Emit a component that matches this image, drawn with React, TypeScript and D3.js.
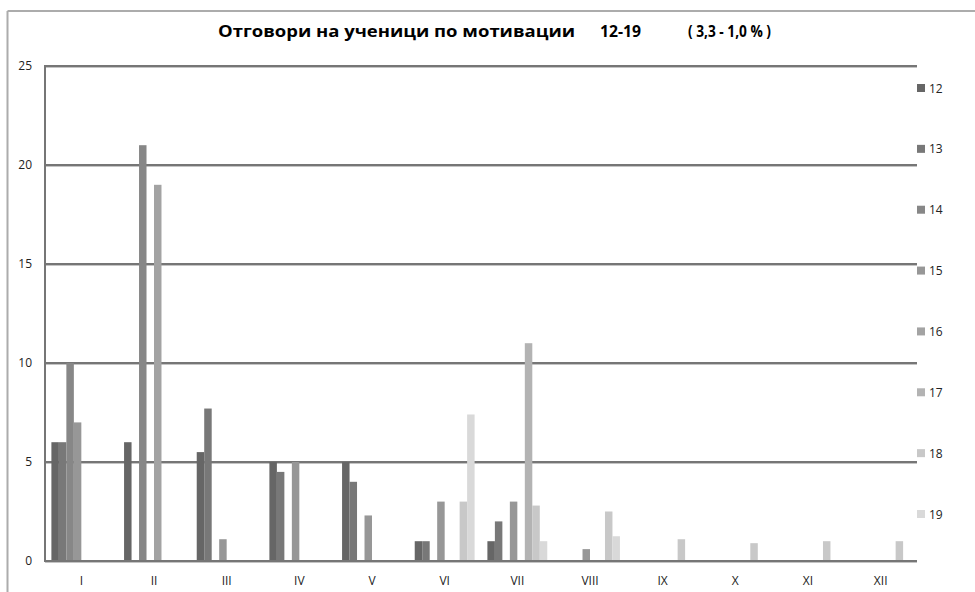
import React from "react";
import * as d3 from "d3";

const categories = ["I", "II", "III", "IV", "V", "VI", "VII", "VIII", "IX", "X", "XI", "XII"];
const seriesNames = ["12", "13", "14", "15", "16", "17", "18", "19"];
const s12 = [6, 6, 5.5, 5, 5, 1, 1, 0, 0, 0, 0, 0];
const s13 = [6, 0, 7.7, 4.5, 4, 1, 2, 0, 0, 0, 0, 0];
const s14 = [10, 21, 0, 0, 0, 0, 0, 0, 0, 0, 0, 0];
const s15 = [7, 0, 1.1, 5, 2.3, 3, 3, 0.6, 0, 0, 0, 0];
const s16 = [0, 19, 0, 0, 0, 0, 0, 0, 0, 0, 0, 0];
const s17 = [0, 0, 0, 0, 0, 0, 11, 0, 0, 0, 0, 0];
const s18 = [0, 0, 0, 0, 0, 3, 2.8, 2.5, 1.1, 0.9, 1, 1];
const s19 = [0, 0, 0, 0, 0, 7.4, 1, 1.25, 0, 0, 0, 0];
const yTicks = [0, 5, 10, 15, 20, 25];
const seriesColors = ["#666666", "#787878", "#878787", "#979797", "#a3a3a3", "#b3b3b3", "#c8c8c8", "#d9d9d9"];
const titleMain = "Отговори на ученици по мотивации";
const titleRange = "12-19";
const titlePct = "( 3,3 - 1,0 % )";

const allSeries = [s12, s13, s14, s15, s16, s17, s18, s19];

export default function App() {
  const W = 975, H = 592;
  const left = 45, right = 917, top = 66, bottom = 561;
  const x = d3.scaleBand<string>().domain(categories).range([left, right]).padding(0);
  const xi = d3.scaleBand<string>().domain(seriesNames).range([0, x.bandwidth()]).paddingInner(0).paddingOuter(0.855);
  const y = d3.scaleLinear().domain([0, 25]).range([bottom, top]);
  const font = "'Open Sans', 'DejaVu Sans', sans-serif";
  const legendY = d3.scaleLinear().domain([0, 7]).range([88, 514]);

  return (
    <svg width={W} height={H} style={{ position: "absolute", left: 0, top: 0, background: "#fff" }}>
      <rect x={0} y={0} width={W} height={H} fill="#fff" />
      {/* outer frame */}
      <line x1={7.5} y1={11} x2={W} y2={11} stroke="#acacac" strokeWidth={2} />
      <line x1={7.5} y1={11} x2={7.5} y2={H} stroke="#acacac" strokeWidth={2} />
      {/* title */}
      <g fontFamily={font} fontWeight="bold" fontSize={16} fill="#000">
        <text x={218} y={37} textLength={357} lengthAdjust="spacingAndGlyphs">{titleMain}</text>
        <text x={600} y={37} textLength={41} lengthAdjust="spacingAndGlyphs">{titleRange}</text>
        <text x={688} y={37} textLength={83} lengthAdjust="spacingAndGlyphs" style={{ whiteSpace: "pre" }}>{titlePct}</text>
      </g>
      {/* gridlines */}
      {yTicks.map((t) => (
        <g key={t}>
          <line x1={left} x2={right} y1={y(t) + 1.5} y2={y(t) + 1.5} stroke="#c4c4c4" strokeWidth={1} />
          <line x1={left} x2={right} y1={y(t)} y2={y(t)} stroke="#767676" strokeWidth={2} />
          <text x={32} y={y(t) + 4} textAnchor="end" fontFamily={font} fontSize={12} fill="#222">{t}</text>
        </g>
      ))}
      <line x1={left} x2={left} y1={top - 1} y2={bottom + 1} stroke="#767676" strokeWidth={2} />
      {/* bars */}
      {allSeries.map((vals, si) => (
        <g key={si} fill={seriesColors[si]}>
          {vals.map((v, ci) =>
            v > 0 ? (
              <rect key={ci}
                x={(x(categories[ci]) as number) + (xi(seriesNames[si]) as number)}
                y={y(v)} width={xi.bandwidth()} height={y(0) - y(v) - 1} />
            ) : null
          )}
        </g>
      ))}
      {/* category labels */}
      {categories.map((c) => (
        <text key={c} x={(x(c) as number) + x.bandwidth() / 2} y={585} textAnchor="middle"
          fontFamily={font} fontSize={12} fill="#222">{c}</text>
      ))}
      {/* legend */}
      {seriesNames.map((n, i) => (
        <g key={n}>
          <rect x={917} y={legendY(i) - 4} width={8} height={8} fill={seriesColors[i]} />
          <text x={929} y={legendY(i) + 4.5} fontFamily={font} fontSize={12} fill="#222">{n}</text>
        </g>
      ))}
    </svg>
  );
}
